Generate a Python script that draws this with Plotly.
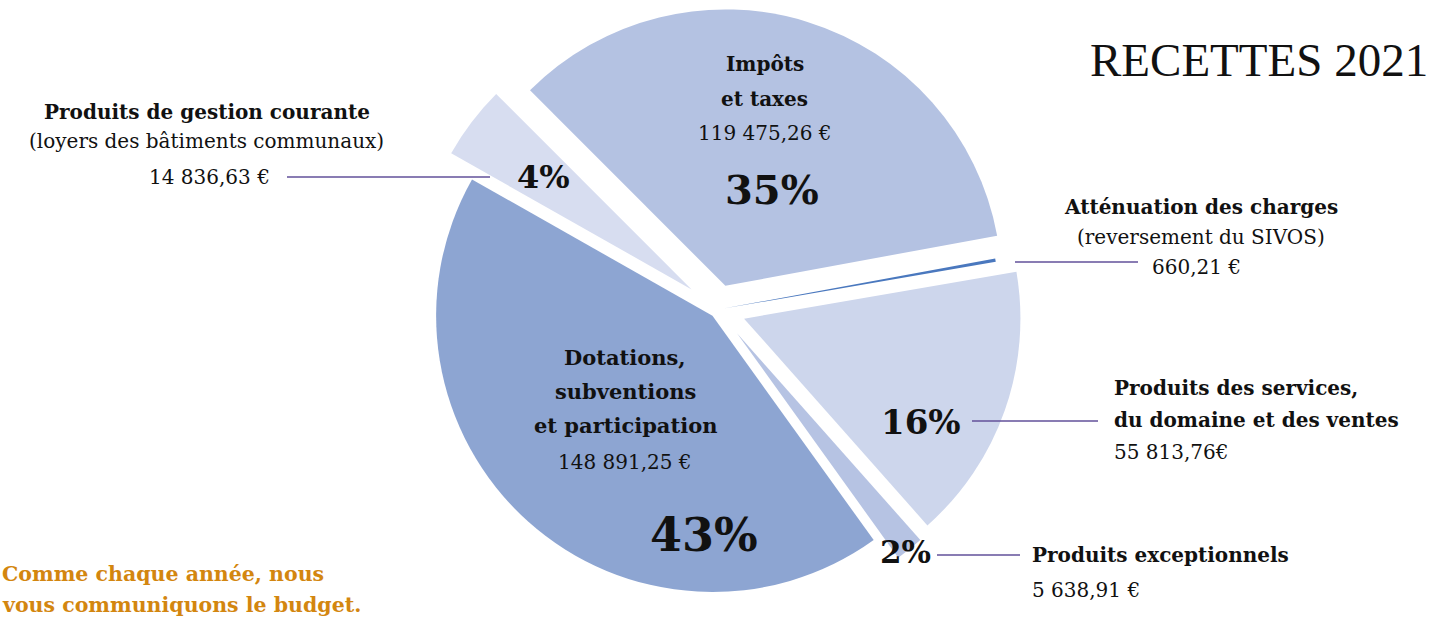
import plotly.graph_objects as go

# ---- data ----
categories = [
    "Impôts et taxes",
    "Atténuation des charges",
    "Produits des services, du domaine et des ventes",
    "Produits exceptionnels",
    "Dotations, subventions et participation",
    "Produits de gestion courante",
]
amounts = [119475.26, 660.21, 55813.76, 5638.91, 148891.25, 14836.63]
amount_labels = ["119 475,26 €", "660,21 €", "55 813,76€", "5 638,91 €", "148 891,25 €", "14 836,63 €"]
percent_labels = ["35%", "", "16%", "2%", "43%", "4%"]
title_text = "RECETTES 2021"
footer_lines = ["Comme chaque année, nous", "vous communiquons le budget."]

# ---- styles ----
colors = ["#B4C2E2", "#4A78BE", "#CDD6EC", "#B6C3E3", "#8DA5D2", "#D7DDF0"]
pulls = [0.09, 0.02, 0.10, 0.11, 0.03, 0.12]
W, H = 1436, 619
SERIF = "DejaVu Serif"
INK = "#111111"
LINE = "#62509A"
ORANGE = "#D3860F"


def X(px):
    return px / W


def Y(py):
    return 1 - py / H


fig = go.Figure(
    go.Pie(
        labels=categories,
        values=amounts,
        sort=False,
        direction="clockwise",
        rotation=-45,
        pull=pulls,
        marker=dict(colors=colors, line=dict(width=0)),
        textinfo="none",
        hoverinfo="skip",
        showlegend=False,
        domain=dict(x=[0, 1], y=[0, 1]),
    )
)

ann = []


def add(text, px, py, size, bold=False, xanchor="center", color=INK, family=SERIF):
    t = f"<b>{text}</b>" if bold else text
    ann.append(dict(text=t, x=X(px), y=Y(py), xref="paper", yref="paper",
                    xanchor=xanchor, yanchor="middle", showarrow=False,
                    font=dict(family=family, size=size, color=color)))


# Impôts et taxes
add("Impôts", 765, 64, 20, bold=True)
add("et taxes", 765, 99, 20, bold=True)
add(amount_labels[0], 765, 133, 20)
add(percent_labels[0], 772, 190, 40, bold=True)

# Atténuation des charges
add("Atténuation des charges", 1201, 207, 20, bold=True)
add("(reversement du SIVOS)", 1201, 237, 20)
add(amount_labels[1], 1150, 267, 20, xanchor="left")

# Produits des services
add("Produits des services,", 1112, 388, 20, bold=True, xanchor="left")
add("du domaine et des ventes", 1112, 420, 20, bold=True, xanchor="left")
add(amount_labels[2], 1112, 452, 20, xanchor="left")
add(percent_labels[2], 921, 422, 34, bold=True)

# Produits exceptionnels
add("Produits exceptionnels", 1030, 555, 20, bold=True, xanchor="left")
add(amount_labels[3], 1030, 590, 20, xanchor="left")
add(percent_labels[3], 905, 552, 31, bold=True)

# Dotations
add("Dotations,", 625, 357, 21, bold=True)
add("subventions", 625, 391, 21, bold=True)
add("et participation", 625, 425, 21, bold=True)
add(amount_labels[4], 625, 462, 20)
add(percent_labels[4], 704, 535, 46, bold=True)

# Produits de gestion courante
add("Produits de gestion courante", 207, 112, 20, bold=True)
add("(loyers des bâtiments communaux)", 207, 141, 20)
add(amount_labels[5], 272, 177, 20, xanchor="right")
add(percent_labels[5], 543, 177, 32, bold=True)

# Title & footer
add(title_text, 1430, 60, 47, xanchor="right", family="Liberation Serif")
add(footer_lines[0], 0, 574, 20.5, bold=True, xanchor="left", color=ORANGE)
add(footer_lines[1], 0, 605, 20.5, bold=True, xanchor="left", color=ORANGE)

# leader lines
leaders = [
    (287, 177, 490, 177),
    (1015, 262, 1138, 262),
    (972, 421, 1098, 421),
    (937, 555, 1020, 555),
]
shapes = [dict(type="line", xref="paper", yref="paper",
               x0=X(a), y0=Y(b), x1=X(c), y1=Y(d),
               line=dict(color=LINE, width=1.5)) for a, b, c, d in leaders]

fig.update_layout(
    width=W, height=H,
    margin=dict(l=0, r=0, t=0, b=0),
    paper_bgcolor="white",
    plot_bgcolor="white",
    annotations=ann,
    shapes=shapes,
)

fig.write_html(
    "out.html",
    config={"displayModeBar": False},
    post_script="document.body.style.margin='0';document.body.style.overflow='hidden';",
)
